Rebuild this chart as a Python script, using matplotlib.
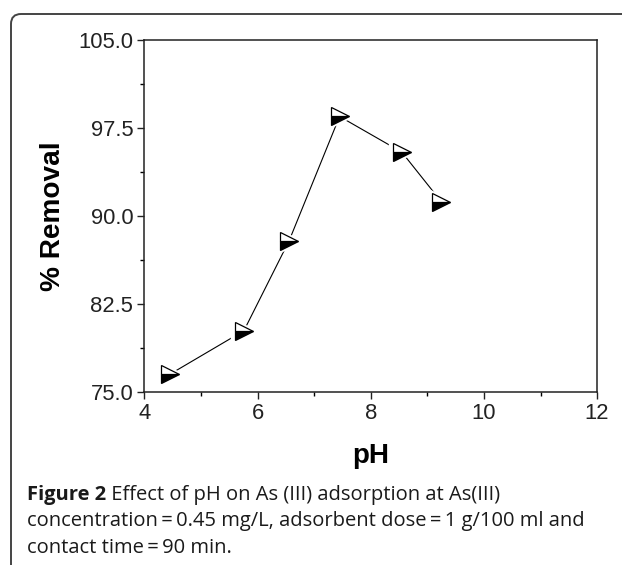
import matplotlib
matplotlib.use("Agg")
import matplotlib.pyplot as plt
from matplotlib.patches import FancyBboxPatch
from matplotlib.transforms import IdentityTransform

# pH vs % removal
ph = [4.46, 5.76, 6.56, 7.45, 8.55, 9.25]
removal = [76.5, 80.2, 87.9, 98.5, 95.45, 91.2]

xticks = [4, 6, 8, 10, 12]
yticks = [75.0, 82.5, 90.0, 97.5, 105.0]

caption_bold = "Figure 2"
caption_lines = [" Effect of pH on As (III) adsorption at As(III)",
                 "concentration\u2009=\u20090.45 mg/L, adsorbent dose\u2009=\u20091 g/100 ml and",
                 "contact time\u2009=\u200990 min."]

plt.rcParams['font.family'] = ['Liberation Sans', 'DejaVu Sans']

fig = plt.figure(figsize=(6.22, 5.65), dpi=100)
ax = fig.add_axes([0.232, 0.307, 0.728, 0.6215])

ax.plot(ph, removal, color='black', lw=0.8, zorder=2)
# white halo so the line stops short of each marker
ax.plot(ph, removal, ls='none', marker='>', ms=19, color='white',
        markeredgecolor='white', zorder=3)
ax.plot(ph, removal, ls='none', marker='>', ms=13, fillstyle='bottom',
        markerfacecolor='black', markerfacecoloralt='white',
        markeredgecolor='black', markeredgewidth=0.9, zorder=4)

ax.set_xlim(4, 12)
ax.set_ylim(75, 105)
ax.set_xticks(xticks)
ax.set_xticks(range(5, 12, 2), minor=True)
ax.set_yticks(yticks)
ax.set_yticks([78.75, 86.25, 93.75, 101.25], minor=True)
ax.set_yticklabels([f"{v:.1f}" for v in yticks])
ax.tick_params(which='major', direction='out', length=5, width=1, labelsize=15.8,
               colors='#222222', pad=3)
ax.tick_params(which='minor', direction='out', length=3, width=1)
for s in ax.spines.values():
    s.set_linewidth(1.1)
    s.set_color('#222222')

ax.set_xlabel('pH', fontsize=20, fontweight='bold')
ax.set_ylabel('% Removal', fontsize=20.2, fontweight='bold')
ax.xaxis.set_label_coords(0.5, -0.183)
ax.yaxis.set_label_coords(-0.2025, 0.5)
ax.xaxis.label.set_va('center')
ax.yaxis.label.set_va('center')

# rounded frame around the figure
frame = FancyBboxPatch((11, -50), 700, 601, boxstyle="round,pad=0,rounding_size=10",
                       transform=IdentityTransform(), fill=False,
                       edgecolor='#444444', lw=1.4)
fig.patches.append(frame)

# caption
cfont = ['Open Sans', 'DejaVu Sans']
ccol = '#1a1a1a'
csize = 14.5
x0 = 27 / 622
ys = [1 - 495 / 565, 1 - 521 / 565, 1 - 548 / 565]
tb = fig.text(x0, ys[0], caption_bold, fontsize=csize, fontweight='bold',
              family=cfont, color=ccol, va='center')
r = fig.canvas.get_renderer()
bb = tb.get_window_extent(r)
fig.text(bb.x1 / fig.bbox.width, ys[0], caption_lines[0], fontsize=csize,
         family=cfont, color=ccol, va='center')
for line, y in zip(caption_lines[1:], ys[1:]):
    fig.text(x0, y, line, fontsize=csize, family=cfont, color=ccol, va='center')

fig.savefig('out.png', dpi=100)
